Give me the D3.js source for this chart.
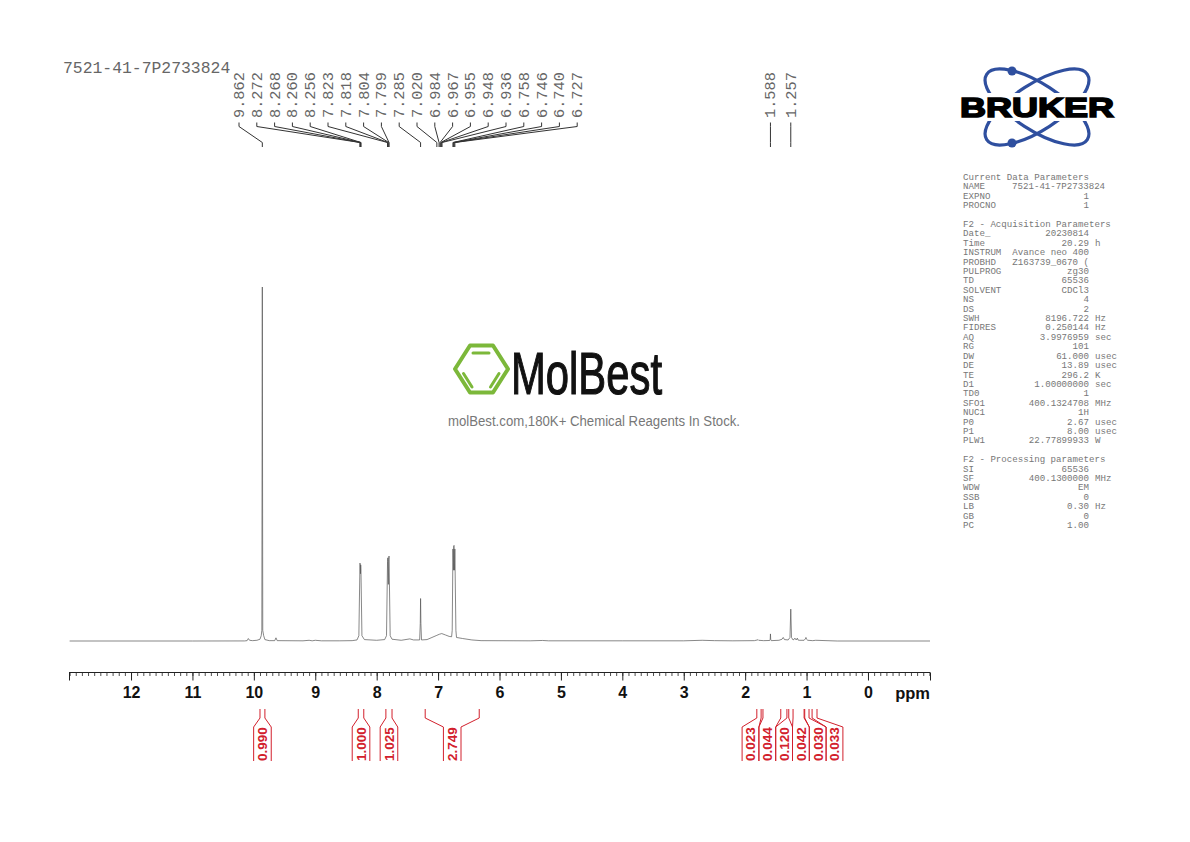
<!DOCTYPE html>
<html>
<head>
<meta charset="utf-8">
<script src="https://cdn.jsdelivr.net/npm/d3@7/dist/d3.min.js"></script>
<style>
	html, body { margin: 0; padding: 0; background: #fff; }
	svg { display: block; }
</style>
</head>
<body>
<svg id="chart" width="1190" height="842"></svg>
<script>
var title = "7521-41-7P2733824";

//spectrum: ppm and intensity as % of the tallest peak
var specPpm = [13.0, 11.0, 10.15, 10.11, 10.09, 10.07, 10.02, 9.95, 9.90, 9.88, 9.87, 9.862, 9.855, 9.84, 9.82, 9.75, 9.66, 9.64, 9.62, 9.2, 9.1, 9.05, 9.0, 8.9, 8.6, 8.4, 8.32, 8.29, 8.272, 8.268, 8.264, 8.260, 8.256, 8.24, 8.2, 8.0, 7.87, 7.84, 7.823, 7.818, 7.81, 7.804, 7.799, 7.78, 7.75, 7.6, 7.46, 7.4, 7.3, 7.29, 7.285, 7.28, 7.27, 7.18, 7.1, 7.02, 6.98, 6.94, 6.88, 6.82, 6.78, 6.77, 6.758, 6.75, 6.746, 6.74, 6.733, 6.727, 6.71, 6.70, 6.6, 6.45, 6.3, 5.5, 5.3, 5.2, 4.0, 3.0, 2.7, 2.5, 2.2, 1.85, 1.8, 1.79, 1.78, 1.7, 1.6, 1.592, 1.588, 1.584, 1.575, 1.45, 1.40, 1.38, 1.36, 1.30, 1.27, 1.257, 1.245, 1.22, 1.20, 1.19, 1.17, 1.15, 1.14, 1.12, 1.04, 1.02, 1.01, 1.0, 0.98, 0.9, 0.85, 0.5, -1.01];
var specInt = [0, 0, 0.02, 0.1, 0.7, 0.2, 0.1, 0.2, 0.5, 1.5, 3, 100, 3, 1.5, 0.4, 0.1, 0.1, 0.9, 0.1, 0.05, 0.2, 0.05, 0.2, 0.05, 0.05, 0.1, 0.3, 1.5, 22, 21.5, 19, 21.5, 20, 1.5, 0.4, 0.2, 0.4, 1.5, 22.5, 23.5, 16, 23, 24, 1.5, 0.5, 0.2, 0.6, 0.3, 0.3, 5, 12, 5, 0.3, 0.4, 1, 1.6, 1.9, 2.1, 1.7, 1.3, 1.2, 3, 26, 20, 26.8, 27, 20, 26, 3, 1, 0.7, 0.3, 0.1, 0.05, 0.15, 0.05, 0.05, 0.05, 0.2, 0.1, 0.05, 0.1, 0.3, 0.4, 0.2, 0.1, 0.15, 0.5, 2, 0.5, 0.1, 0.2, 0.5, 1, 0.4, 0.3, 1, 9, 1, 0.3, 0.5, 0.8, 0.3, 0.8, 0.3, 0.2, 0.2, 0.6, 1, 0.5, 0.2, 0.1, 0.2, 0, 0];

var peakLabels = ["9.862", "8.272", "8.268", "8.260", "8.256", "7.823", "7.818", "7.804", "7.799", "7.285", "7.020", "6.984", "6.967", "6.955", "6.948", "6.936", "6.758", "6.746", "6.740", "6.727"];
var otherPeakLabels = ["1.588", "1.257"];

var axisTicks = [12, 11, 10, 9, 8, 7, 6, 5, 4, 3, 2, 1, 0];

//integral regions
var integralValues = ["0.990", "1.000", "1.025", "2.749", "0.023", "0.044", "0.120", "0.042", "0.030", "0.033"];
var integralFrom = [9.90, 8.30, 7.85, 7.21, 1.81, 1.71, 1.32, 1.22, 1.03, 0.91];
var integralTo = [9.82, 8.21, 7.75, 6.33, 1.74, 1.42, 1.29, 1.04, 0.96, 0.83];

//acquisition table
var paramRows = [
	["Current Data Parameters"],
	["NAME", "7521-41-7P2733824"],
	["EXPNO", "1"],
	["PROCNO", "1"],
	[],
	["F2 - Acquisition Parameters"],
	["Date_", "20230814"],
	["Time", "20.29", "h"],
	["INSTRUM", "Avance neo 400"],
	["PROBHD", "Z163739_0670 ("],
	["PULPROG", "zg30"],
	["TD", "65536"],
	["SOLVENT", "CDCl3"],
	["NS", "4"],
	["DS", "2"],
	["SWH", "8196.722", "Hz"],
	["FIDRES", "0.250144", "Hz"],
	["AQ", "3.9976959", "sec"],
	["RG", "101"],
	["DW", "61.000", "usec"],
	["DE", "13.89", "usec"],
	["TE", "296.2", "K"],
	["D1", "1.00000000", "sec"],
	["TD0", "1"],
	["SFO1", "400.1324708", "MHz"],
	["NUC1", "1H"],
	["P0", "2.67", "usec"],
	["P1", "8.00", "usec"],
	["PLW1", "22.77899933", "W"],
	[],
	["F2 - Processing parameters"],
	["SI", "65536"],
	["SF", "400.1300000", "MHz"],
	["WDW", "EM"],
	["SSB", "0"],
	["LB", "0.30", "Hz"],
	["GB", "0"],
	["PC", "1.00"]
];

var svg = d3.select("#chart");
var mono = "'Liberation Mono', monospace";
var sans = "'Liberation Sans', Arial, sans-serif";
var red = "#d2202c";

var x = d3.scaleLinear().domain([13.01, -1.01]).range([69, 930]);
var y = d3.scaleLinear().domain([0, 100]).range([641, 287]);

//spectrum
var line = d3.line()
	.x(function(d, i){ return x(specPpm[i]); })
	.y(function(d){ return y(d); });

svg.append("path")
	.attr("d", line(specInt))
	.attr("fill", "none")
	.attr("stroke", "#555")
	.attr("stroke-width", 0.7);

//ppm axis, minor ticks first then the major ones
var minorAxis = d3.axisBottom(x)
	.tickValues(d3.range(-10, 131).map(function(d){ return d / 10; }))
	.tickSize(3.5)
	.tickFormat("");
var majorAxis = d3.axisBottom(x)
	.tickValues(axisTicks.concat([13.01, -1.01]))
	.tickSize(8)
	.tickFormat(function(d){ return axisTicks.indexOf(d) >= 0 ? d : ""; });

var gMinor = svg.append("g").attr("transform", "translate(0,672.5)").call(minorAxis);
var gMajor = svg.append("g").attr("transform", "translate(0,672.5)").call(majorAxis);
gMinor.select(".domain").remove();
gMajor.select(".domain").attr("stroke", "#222").attr("d", "M69,0H930");
gMinor.selectAll("line").attr("stroke", "#222").attr("stroke-width", 0.8);
gMajor.selectAll("line").attr("stroke", "#222").attr("stroke-width", 1);
gMajor.selectAll("text")
	.attr("y", 14)
	.attr("font-family", sans)
	.attr("font-weight", "bold")
	.attr("font-size", 16)
	.attr("fill", "#111");

svg.append("text")
	.attr("x", 930).attr("y", 699)
	.attr("text-anchor", "end")
	.attr("font-family", sans)
	.attr("font-weight", "bold")
	.attr("font-size", 16.5)
	.attr("fill", "#111")
	.text("ppm");

//title
svg.append("text")
	.attr("x", 63).attr("y", 73)
	.attr("font-family", mono)
	.attr("font-size", 16.4)
	.attr("fill", "#666")
	.text(title);

//peak labels with the bent leader down to the peak position
function drawPeakLabel(label, labelX, peakX){
	svg.append("text")
		.attr("transform", "translate(" + (labelX + 5) + ",118) rotate(-90)")
		.attr("font-family", mono)
		.attr("font-size", 15.3)
		.attr("fill", "#666")
		.text(label);
	svg.append("path")
		.attr("d", "M" + labelX + ",122.5V126.5L" + peakX + ",142.5V147")
		.attr("fill", "none")
		.attr("stroke", "#333")
		.attr("stroke-width", 1);
}
peakLabels.forEach(function(label, i){
	drawPeakLabel(label, 239 + i * 17.8, x(+label));
});
otherPeakLabels.forEach(function(label){
	drawPeakLabel(label, x(+label), x(+label));
});

//integrals, the crowded group on the right is spread out into even slots
integralValues.forEach(function(label, i){
	var x0 = x(integralFrom[i]);
	var x1 = x(integralTo[i]);
	var center = i >= 4 ? 750.5 + (i - 4) * 16.8 : (x0 + x1) / 2;
	var half = i >= 4 ? 8.4 : 8.8;
	svg.append("path")
		.attr("d", "M" + x0 + ",709V718L" + (center - half) + ",727V761")
		.attr("fill", "none").attr("stroke", red).attr("stroke-width", 1);
	svg.append("path")
		.attr("d", "M" + x1 + ",709V718L" + (center + half) + ",727V761")
		.attr("fill", "none").attr("stroke", red).attr("stroke-width", 1);
	svg.append("text")
		.attr("transform", "translate(" + (center + 4.8) + ",761) rotate(-90)")
		.attr("font-family", sans)
		.attr("font-weight", "bold")
		.attr("font-size", 13.5)
		.attr("fill", red)
		.text(label);
});

//parameter table
paramRows.forEach(function(row, i){
	var rowY = 180 + i * 9.405;
	var g = svg.append("g")
		.attr("font-family", mono)
		.attr("font-size", 9.13)
		.attr("fill", "#777");
	if(row.length == 0) return;
	g.append("text").attr("x", 963).attr("y", rowY).text(row[0]);
	if(row[0] == "NAME"){
		g.append("text").attr("x", 1012).attr("y", rowY).text(row[1]);
		return;
	}
	if(row[1]) g.append("text").attr("x", 1089).attr("y", rowY).attr("text-anchor", "end").text(row[1]);
	if(row[2]) g.append("text").attr("x", 1095).attr("y", rowY).text(row[2]);
});

//Bruker logo
var blue = "#2f4f9f";
var logo = svg.append("g");
[33, -33].forEach(function(angle){
	logo.append("ellipse")
		.attr("transform", "translate(1037,107) rotate(" + angle + ")")
		.attr("rx", 60).attr("ry", 23)
		.attr("fill", "none")
		.attr("stroke", blue)
		.attr("stroke-width", 3.2);
});
logo.append("circle").attr("cx", 1012).attr("cy", 71).attr("r", 4.5).attr("fill", blue);
logo.append("circle").attr("cx", 1012).attr("cy", 143).attr("r", 4.5).attr("fill", blue);
logo.append("rect").attr("x", 955).attr("y", 93).attr("width", 165).attr("height", 28).attr("fill", "#fff");
logo.append("text")
	.attr("x", 960).attr("y", 117)
	.attr("font-family", sans)
	.attr("font-weight", "bold")
	.attr("font-size", 28)
	.attr("textLength", 154)
	.attr("lengthAdjust", "spacingAndGlyphs")
	.attr("fill", "#000")
	.attr("stroke", "#000")
	.attr("stroke-width", 1.6)
	.text("BRUKER");

//MolBest watermark
var green = "#7cb83a";
var wm = svg.append("g");
wm.append("path")
	.attr("d", "M455,369L470,345.5H493L508,369L493,392.5H470Z")
	.attr("fill", "none").attr("stroke", green).attr("stroke-width", 4).attr("stroke-linejoin", "round");
wm.append("path")
	.attr("d", "M473,353H489M463.5,373.5L472,387M499,373.5L490.5,387")
	.attr("fill", "none").attr("stroke", green).attr("stroke-width", 3).attr("stroke-linecap", "round");
wm.append("text")
	.attr("x", 511).attr("y", 393.5)
	.attr("font-family", sans)
	.attr("font-size", 60)
	.attr("textLength", 151)
	.attr("lengthAdjust", "spacingAndGlyphs")
	.attr("fill", "#111")
	.attr("stroke", "#111")
	.attr("stroke-width", 1.2)
	.text("MolBest");
wm.append("text")
	.attr("x", 448).attr("y", 426)
	.attr("font-family", sans)
	.attr("font-size", 14)
	.attr("textLength", 292)
	.attr("lengthAdjust", "spacingAndGlyphs")
	.attr("fill", "#777")
	.text("molBest.com,180K+ Chemical Reagents In Stock.");
</script>
</body>
</html>
